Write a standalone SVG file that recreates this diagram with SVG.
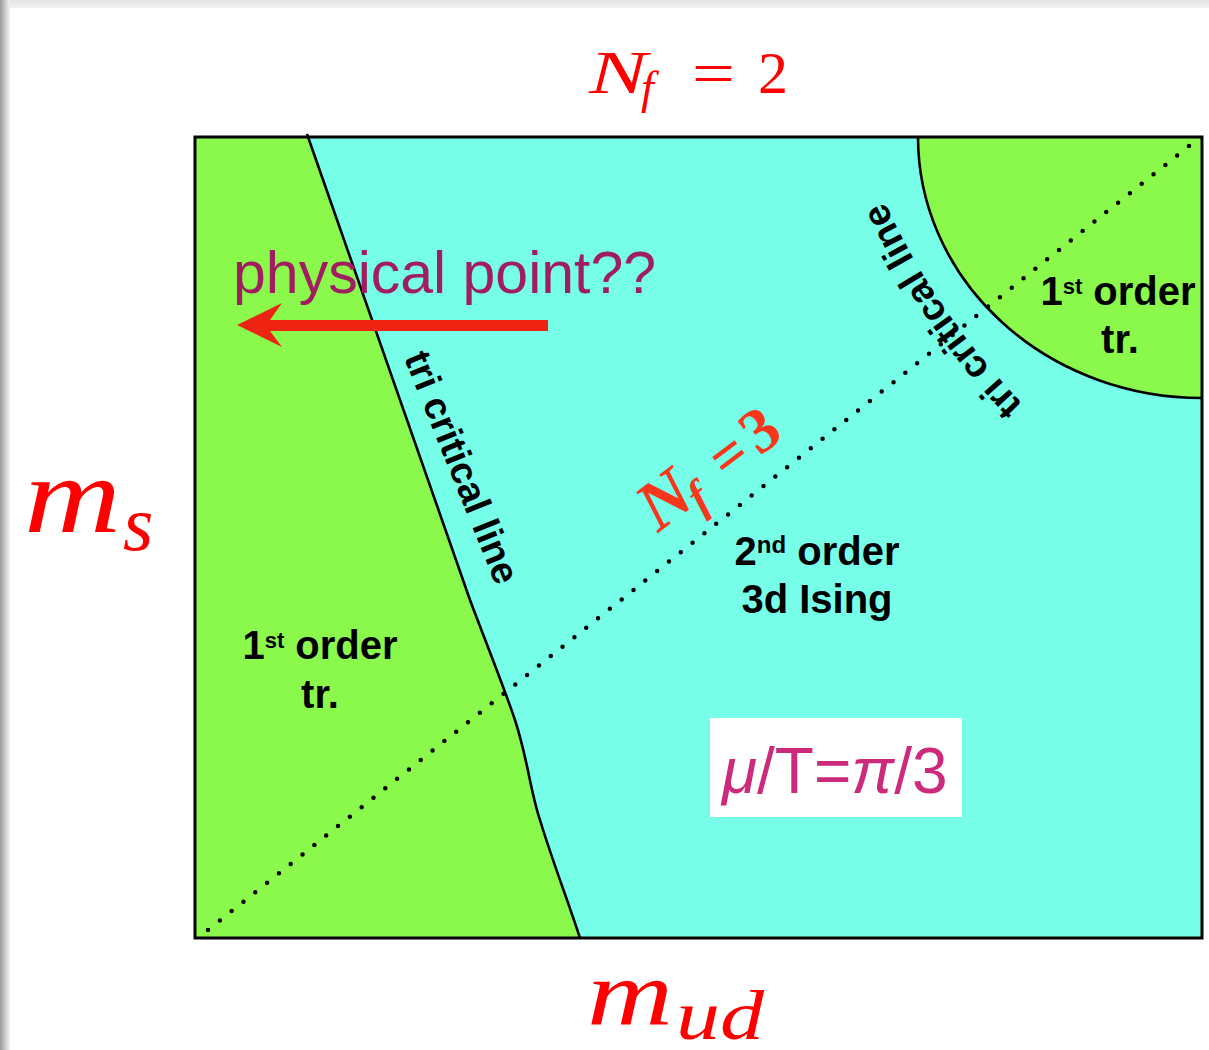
<svg xmlns="http://www.w3.org/2000/svg" width="1209" height="1050" viewBox="0 0 1209 1050">
<style>
.lbl{font-family:"Liberation Sans",Arial,sans-serif;font-weight:bold;font-size:40px;fill:#000}
.math{font-family:"Liberation Serif","Times New Roman",serif;fill:#ff0000}
.bd{stroke:#000;fill:none;stroke-width:2.6}
</style>
<defs>
<linearGradient id="shL" x1="0" y1="0" x2="1" y2="0">
<stop offset="0" stop-color="#9a9a9a"/><stop offset="1" stop-color="#f6f6f6"/>
</linearGradient>
<linearGradient id="shT" x1="0" y1="0" x2="0" y2="1">
<stop offset="0" stop-color="#e4e4e4"/><stop offset="1" stop-color="#f1f1f1"/>
</linearGradient>
<path id="arcText" d="M1042,423 A720,720 0 0,1 874,177"/>
</defs>
<rect x="0" y="0" width="1209" height="1050" fill="#fff"/>
<rect x="0" y="0" width="1209" height="8" fill="url(#shT)"/>
<rect x="0" y="0" width="10" height="1050" fill="url(#shL)"/>

<g id="regions">
<rect id="cyan-region" x="195" y="137" width="1007" height="801" fill="#77fee9"/>
<path id="green-left" d="M195,137 L307,137 L470,600 C485,640 505,690 515,720 C528,760 530,790 540,820 C552,860 566,895 580,938 L195,938 Z" fill="#8af94c"/>
<path id="green-corner" d="M918,137 A284,261 0 0,0 1202,398 L1202,137 Z" fill="#8af94c"/>
</g>

<g id="connectors">
<path class="bd" d="M307,134 L470,600 C485,640 505,690 515,720 C528,760 530,790 540,820 C552,860 566,895 580,938"/>
<path class="bd" d="M918,137 A284,261 0 0,0 1202,398"/>
<line x1="208" y1="930" x2="1189" y2="146" stroke="#000" stroke-width="4.5" stroke-linecap="round" stroke-dasharray="0 15.13"/>
<rect x="195" y="137" width="1007" height="801" fill="none" stroke="#000" stroke-width="3"/>
<polygon id="arrow" points="237,325 282,303 270,320 548,320 548,331 270,331 282,347" fill="#ef2311"/>
</g>

<g id="label-nf2">
<text class="math" x="589" y="93" font-size="62" font-style="italic" textLength="58" lengthAdjust="spacingAndGlyphs">N</text>
<text class="math" x="641" y="103" font-size="46" font-style="italic">f</text>
<text class="math" x="692" y="93" font-size="60" textLength="43" lengthAdjust="spacingAndGlyphs">=</text>
<text class="math" x="758" y="93" font-size="60">2</text>
</g>

<g id="label-ms">
<text class="math" x="24" y="532" font-size="108" font-style="italic" textLength="97" lengthAdjust="spacingAndGlyphs">m</text>
<text class="math" x="123" y="550" font-size="78" font-style="italic">s</text>
</g>

<g id="label-mud">
<text class="math" x="587" y="1025" font-size="94" font-style="italic" textLength="86" lengthAdjust="spacingAndGlyphs">m</text>
<text class="math" x="676" y="1039" font-size="70" font-style="italic" textLength="88" lengthAdjust="spacingAndGlyphs">ud</text>
</g>

<g id="label-physical">
<text x="233" y="293" font-family="'Liberation Sans',Arial,sans-serif" font-size="59" fill="#a01d62">physical point??</text>
</g>

<g id="label-tri-left">
<text class="lbl" text-anchor="middle" transform="translate(450,472) rotate(68)" style="font-size:38px">tri critical line</text>
</g>

<g id="label-tri-right">
<text class="lbl" style="font-size:38px"><textPath href="#arcText" startOffset="50%" text-anchor="middle">tri critical line</textPath></text>
</g>

<g id="label-first-left">
<text class="lbl" x="320" y="659" text-anchor="middle">1<tspan style="font-size:22px" dy="-11">st</tspan><tspan dy="11"> order</tspan></text>
<text class="lbl" x="320" y="708" text-anchor="middle">tr.</text>
</g>

<g id="label-first-right">
<text class="lbl" x="1118" y="305" text-anchor="middle">1<tspan style="font-size:22px" dy="-11">st</tspan><tspan dy="11"> order</tspan></text>
<text class="lbl" x="1120" y="353" text-anchor="middle">tr.</text>
</g>

<g id="label-second">
<text class="lbl" x="817" y="565" text-anchor="middle">2<tspan style="font-size:24px" dy="-12">nd</tspan><tspan dy="12"> order</tspan></text>
<text class="lbl" x="817" y="613" text-anchor="middle">3d Ising</text>
</g>

<g id="label-nf3" transform="translate(650,539) rotate(-37)" font-family="'Liberation Serif','Times New Roman',serif" font-weight="bold" fill="#f8361b">
<text x="10" y="0" font-size="70" font-style="italic">N</text>
<text x="56" y="11" font-size="46" font-style="italic">f</text>
<text x="96" y="0" font-size="60">=</text>
<text x="137" y="0" font-size="64">3</text>
</g>

<g id="label-mu">
<rect x="710" y="718" width="252" height="99" fill="#fff"/>
<text x="722" y="793" font-family="'Liberation Sans',Arial,sans-serif" font-size="64" fill="#cc2a7a"><tspan font-style="italic">μ</tspan>/T=<tspan font-style="italic">π</tspan>/3</text>
</g>
</svg>
